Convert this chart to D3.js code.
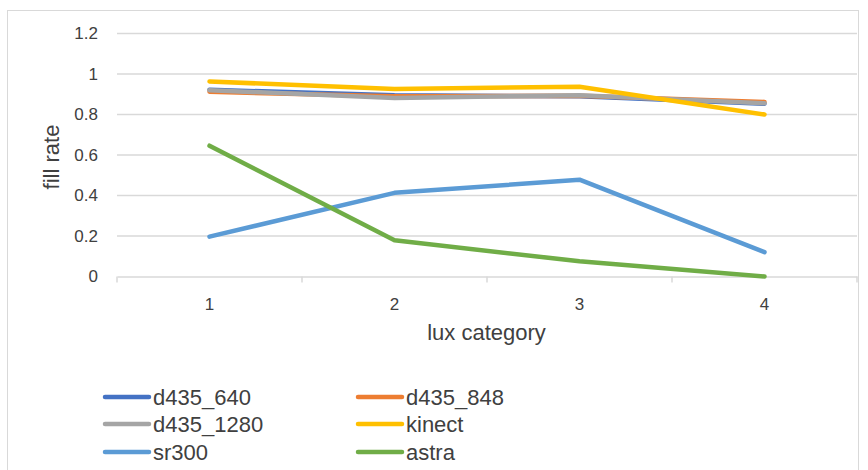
<!DOCTYPE html>
<html>
<head>
<meta charset="utf-8">
<script src="https://cdn.jsdelivr.net/npm/d3@7"></script>
<style>
  html, body { margin: 0; padding: 0; background: #ffffff; }
  svg { display: block; }
  text { font-family: "Liberation Sans", Arial, sans-serif; fill: #404040; }
</style>
</head>
<body>
<svg id="chart" width="868" height="470"></svg>
<script>
// Lux categories on the x axis
const categories = ["1", "2", "3", "4"];

// Fill rate per camera / resolution
const d435_640  = [0.922, 0.895, 0.890, 0.853];
const d435_848  = [0.912, 0.890, 0.893, 0.862];
const d435_1280 = [0.920, 0.882, 0.895, 0.855];
const kinect    = [0.963, 0.926, 0.937, 0.800];
const sr300     = [0.197, 0.413, 0.478, 0.120];
const astra     = [0.646, 0.179, 0.075, 0.000];

const seriesNames = ["d435_640", "d435_848", "d435_1280", "kinect", "sr300", "astra"];
const seriesValues = [d435_640, d435_848, d435_1280, kinect, sr300, astra];
const seriesColors = ["#4472C4", "#ED7D31", "#A5A5A5", "#FFC000", "#5B9BD5", "#70AD47"];

const yTicks = [0, 0.2, 0.4, 0.6, 0.8, 1, 1.2];

const svg = d3.select("#chart");

// Outer chart frame
svg.append("rect")
  .attr("x", 7.5).attr("y", 10.5)
  .attr("width", 851).attr("height", 480)
  .attr("fill", "#ffffff")
  .attr("stroke", "#d9d9d9")
  .attr("stroke-width", 1);

const plot = { left: 117, right: 857, top: 33.5, bottom: 276.5 };

const x = d3.scaleBand()
  .domain(categories)
  .range([plot.left, plot.right]);

const y = d3.scaleLinear()
  .domain([0, 1.2])
  .range([plot.bottom, plot.top]);

// Horizontal gridlines
svg.append("g")
  .selectAll("line")
  .data(yTicks.filter(t => t > 0))
  .join("line")
  .attr("x1", plot.left).attr("x2", plot.right)
  .attr("y1", d => y(d)).attr("y2", d => y(d))
  .attr("stroke", "#d9d9d9")
  .attr("stroke-width", 1.5);

// Y axis labels
const yAxis = d3.axisLeft(y)
  .tickValues(yTicks)
  .tickFormat(d => String(+d.toFixed(1)))
  .tickSize(0)
  .tickPadding(19);

const gy = svg.append("g")
  .attr("transform", `translate(${plot.left},0)`)
  .call(yAxis);
gy.select(".domain").remove();
gy.selectAll("text")
  .style("font-size", "17px")
  .attr("fill", "#404040");

// X axis with tick marks at category boundaries
const gx = svg.append("g")
  .attr("transform", `translate(0,${plot.bottom})`)
  .call(d3.axisBottom(x).tickSize(0).tickPadding(21));
gx.select(".domain")
  .attr("stroke", "#d9d9d9")
  .attr("stroke-width", 1.5);
gx.selectAll("text")
  .style("font-size", "17px")
  .attr("fill", "#404040");

const boundaries = categories.map(c => x(c)).concat([x(categories[categories.length - 1]) + x.bandwidth()]);
gx.selectAll(".boundary")
  .data(boundaries)
  .join("line")
  .attr("class", "boundary")
  .attr("x1", d => d).attr("x2", d => d)
  .attr("y1", 0).attr("y2", 6)
  .attr("stroke", "#d9d9d9")
  .attr("stroke-width", 1.5);

// Axis titles
svg.append("text")
  .attr("transform", `translate(59,${(plot.top + plot.bottom) / 2 + 2}) rotate(-90)`)
  .attr("text-anchor", "middle")
  .style("font-size", "22px")
  .text("fill rate");

svg.append("text")
  .attr("x", (plot.left + plot.right) / 2 - 0.5)
  .attr("y", 340)
  .attr("text-anchor", "middle")
  .style("font-size", "22px")
  .text("lux category");

// Series lines
const line = d3.line()
  .x((d, i) => x(categories[i]) + x.bandwidth() / 2)
  .y(d => y(d));

svg.append("g")
  .selectAll("path")
  .data(seriesValues)
  .join("path")
  .attr("d", d => line(d))
  .attr("fill", "none")
  .attr("stroke", (d, i) => seriesColors[i])
  .attr("stroke-width", 4.5)
  .attr("stroke-linejoin", "round")
  .attr("stroke-linecap", "round");

// Legend (two columns, three rows)
const legend = svg.append("g");
const colX = [105, 358];
const rowY = [397, 424, 452];
seriesNames.forEach((name, i) => {
  const cx = colX[i % 2];
  const cy = rowY[Math.floor(i / 2)];
  legend.append("line")
    .attr("x1", cx).attr("x2", cx + 44)
    .attr("y1", cy).attr("y2", cy)
    .attr("stroke", seriesColors[i])
    .attr("stroke-width", 4.5)
    .attr("stroke-linecap", "round");
  legend.append("text")
    .attr("x", cx + 48)
    .attr("y", cy + 8)
    .style("font-size", "22px")
    .text(name);
});
</script>
</body>
</html>
